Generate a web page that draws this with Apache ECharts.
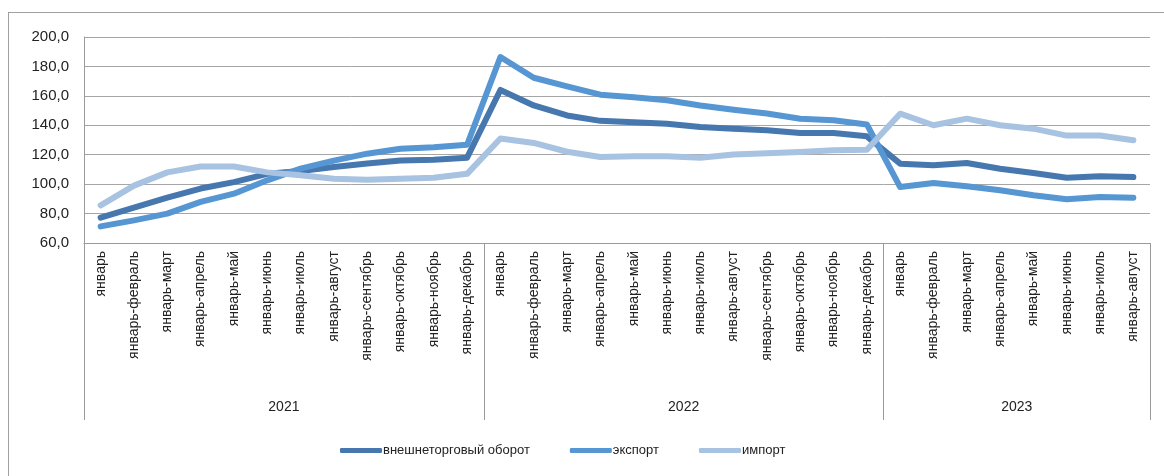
<!DOCTYPE html>
<html>
<head>
<meta charset="utf-8">
<script src="https://cdn.jsdelivr.net/npm/echarts@6/dist/echarts.min.js"></script>
<style>
  html, body { margin: 0; padding: 0; background: #fff; }
  #frame { position: absolute; left: 8px; top: 12px; width: 1200px; height: 500px; border: 1px solid #a0a0a0; }
  #main { position: absolute; left: 0; top: 0; width: 1164px; height: 476px; }
</style>
</head>
<body>
<div id="frame"></div>
<div id="main"></div>
<script>
var months = ['январь', 'январь-февраль', 'январь-март', 'январь-апрель', 'январь-май', 'январь-июнь',
    'январь-июль', 'январь-август', 'январь-сентябрь', 'январь-октябрь', 'январь-ноябрь', 'январь-декабрь'];

var years = ['2021', '2022', '2023'];
var monthsPerYear = [12, 12, 8];

var turnover = [77.2, 84.0, 90.8, 97.0, 101.4, 107.0, 109.0, 111.6, 114.0, 116.0, 116.6, 118.0,
    164.0, 153.5, 146.7, 143.0, 142.0, 141.0, 138.8, 137.7, 136.6, 134.7, 134.7, 132.5,
    113.9, 112.8, 114.4, 110.5, 107.6, 104.4, 105.3, 104.8];
var exportVals = [71.3, 75.4, 80.0, 88.0, 93.5, 102.6, 110.5, 116.0, 120.7, 124.0, 125.0, 126.8,
    186.4, 172.3, 166.5, 160.8, 159.0, 157.0, 153.5, 150.6, 148.0, 144.5, 143.4, 140.6,
    98.0, 100.8, 98.5, 95.8, 92.4, 89.7, 91.3, 90.8];
var importVals = [85.6, 99.0, 108.0, 112.0, 112.0, 108.0, 106.0, 103.7, 103.0, 103.7, 104.4, 107.0,
    131.0, 128.0, 122.0, 118.4, 119.0, 119.0, 118.0, 120.2, 121.0, 121.8, 123.0, 123.4,
    147.9, 140.0, 144.5, 140.0, 137.7, 133.0, 133.0, 129.8];

var seriesNames = ['внешнеторговый оборот', 'экспорт', 'импорт'];
var colors = ['#4677ae', '#5696d2', '#a8c2e1'];

// build category list and year boundaries
var categories = [];
var bounds = [0];
var yearCenters = [];
var acc = 0;
for (var i = 0; i < years.length; i++) {
    for (var j = 0; j < monthsPerYear[i]; j++) {
        categories.push(months[j]);
    }
    yearCenters.push(acc + monthsPerYear[i] / 2);
    acc += monthsPerYear[i];
    bounds.push(acc);
}

var chart = echarts.init(document.getElementById('main'));
var font = 'Liberation Sans, Arial, sans-serif';

var option = {
    animation: false,
    color: colors,
    textStyle: { fontFamily: font },
    grid: {
        left: 84,
        right: 14,
        top: 37,
        bottom: 233,
        containLabel: false
    },
    legend: {
        left: 335,
        top: 439,
        itemWidth: 42,
        itemHeight: 5,
        itemGap: 40,
        icon: 'roundRect',
        textStyle: { fontSize: 13, color: '#222', fontFamily: font, padding: [0, 0, 0, -4] },
        data: seriesNames
    },
    xAxis: [{
        type: 'category',
        data: categories,
        boundaryGap: true,
        axisLine: { lineStyle: { color: '#9a9a9a', width: 1 } },
        axisTick: { show: false },
        axisLabel: {
            rotate: 90,
            interval: 0,
            margin: 8,
            fontSize: 14,
            color: '#222',
            fontFamily: font
        }
    }, {
        type: 'value',
        min: 0,
        max: bounds[bounds.length - 1],
        position: 'bottom',
        axisLine: { show: false },
        splitLine: { show: false },
        axisTick: {
            show: true,
            customValues: bounds,
            length: 177,
            lineStyle: { color: '#9a9a9a', width: 1 }
        },
        axisLabel: {
            customValues: yearCenters,
            margin: 157,
            fontSize: 14,
            color: '#222',
            fontFamily: font,
            formatter: function (v) {
                return years[yearCenters.indexOf(v)];
            }
        }
    }],
    yAxis: {
        type: 'value',
        min: 60,
        max: 200,
        interval: 20,
        axisLine: { show: true, lineStyle: { color: '#9a9a9a', width: 1 } },
        axisTick: { show: false },
        splitLine: { lineStyle: { color: '#a6a6a6', width: 1 } },
        axisLabel: {
            margin: 15,
            fontSize: 15,
            color: '#222',
            fontFamily: font,
            formatter: function (v) { return v.toFixed(1).replace('.', ','); }
        }
    },
    series: [{
        name: seriesNames[0],
        type: 'line',
        data: turnover,
        symbol: 'none',
        lineStyle: { width: 6, cap: 'round', join: 'round' }
    }, {
        name: seriesNames[1],
        type: 'line',
        data: exportVals,
        symbol: 'none',
        lineStyle: { width: 6, cap: 'round', join: 'round' }
    }, {
        name: seriesNames[2],
        type: 'line',
        data: importVals,
        symbol: 'none',
        lineStyle: { width: 6, cap: 'round', join: 'round' }
    }]
};

chart.setOption(option);
</script>
</body>
</html>
